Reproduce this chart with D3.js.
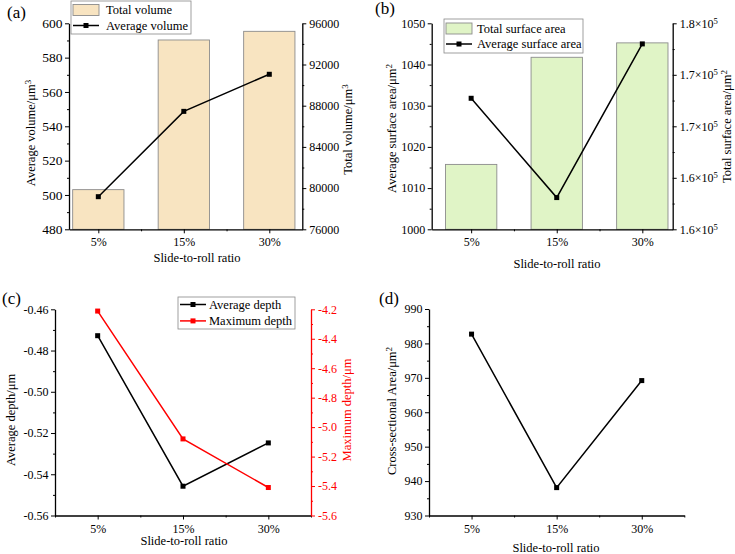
<!DOCTYPE html>
<html>
<head>
<meta charset="utf-8">
<script src="https://cdn.jsdelivr.net/npm/d3@7"></script>
<style>
  body { margin: 0; background: #fff; }
  svg { display: block; }
</style>
</head>
<body>
<svg id="chart" width="735" height="554"></svg>
<script>
// categories
const ratios = ["5%", "15%", "30%"];

// (a) volume
const avgVolume = [499.0, 548.7, 570.3];
const totalVolume = [79850, 94380, 95220];
const volumeTicks = [480, 500, 520, 540, 560, 580, 600];
const totalVolumeTicks = [76000, 80000, 84000, 88000, 92000, 96000];

// (b) surface area
const avgSurface = [1031.8, 1007.7, 1045.0];
const totalSurface = [166300, 176700, 178100];
const surfaceTicks = [1000, 1010, 1020, 1030, 1040, 1050];
const totalSurfaceTicks = [160000, 165000, 170000, 175000, 180000];
const totalSurfaceLabels = ["1.6", "1.6", "1.7", "1.7", "1.8"];

// (c) depth
const avgDepth = [-0.4728, -0.5458, -0.5248];
const maxDepth = [-4.212, -5.080, -5.410];
const depthTicks = [-0.56, -0.54, -0.52, -0.50, -0.48, -0.46];
const maxDepthTicks = [-5.6, -5.4, -5.2, -5.0, -4.8, -4.6, -4.4, -4.2];

// (d) cross-sectional area
const crossArea = [982.7, 938.1, 969.2];
const crossTicks = [930, 940, 950, 960, 970, 980, 990];

const FONT = "'Liberation Serif','Times New Roman',serif";
const svg = d3.select("#chart").attr("font-family", FONT);

// midpoints between major ticks -> minor ticks
const minorOf = t => t.slice(1).map((v, i) => (v + t[i]) / 2);

function title(g, x, y, rot, main, sup, color) {
  const t = g.append("text")
    .attr("transform", `translate(${x},${y})` + (rot ? " rotate(-90)" : ""))
    .attr("text-anchor", "middle")
    .attr("font-size", 12.5)
    .attr("fill", color || "#000")
    .text(main);
  if (sup) t.append("tspan").attr("dy", "-0.45em").attr("font-size", "0.72em").text(sup);
}

function styleAxis(a, color, size) {
  a.attr("font-family", FONT).attr("font-size", size).style("color", color || "#000");
  a.selectAll(".domain").attr("stroke-width", 1.3);
  a.selectAll(".tick line").attr("stroke-width", 1);
}

function panel(p) {
  const g = svg.append("g");
  const x = d3.scaleLinear(p.xDomain, [p.left, p.right]);
  const y = d3.scaleLinear(d3.extent(p.yTicks), [p.bottom, p.top]);
  const y2 = p.y2Ticks ? d3.scaleLinear(d3.extent(p.y2Ticks), [p.bottom, p.top]) : null;

  // bars on the right axis
  if (p.bars) {
    const bw = (x(2) - x(1)) * 0.6;
    g.append("g").selectAll("rect").data(p.bars).join("rect")
      .attr("x", (d, i) => x(i + 1) - bw / 2)
      .attr("y", d => y2(d))
      .attr("width", bw)
      .attr("height", d => p.bottom - y2(d))
      .attr("fill", p.barFill)
      .attr("stroke", "#8c8c8c")
      .attr("stroke-width", 0.9);
  }

  // x axis
  const xMinor = [0.5, 1.5, 2.5, 3.5].filter(v => v >= p.xDomain[0] - 1e-6 && v <= p.xDomain[1] + 1e-6);
  g.append("g").attr("transform", `translate(0,${p.bottom})`)
    .call(d3.axisBottom(x).tickValues(xMinor).tickSize(2).tickFormat(""))
    .call(a => a.select(".domain").remove())
    .call(a => styleAxis(a));
  g.append("g").attr("transform", `translate(0,${p.bottom})`)
    .call(d3.axisBottom(x).tickValues([1, 2, 3]).tickFormat(i => ratios[i - 1])
      .tickSize(4).tickSizeOuter(0).tickPadding(4.5))
    .call(a => styleAxis(a, "#000", 12));

  // left axis
  g.append("g").attr("transform", `translate(${p.left},0)`)
    .call(d3.axisLeft(y).tickValues(minorOf(p.yTicks)).tickSize(2).tickFormat(""))
    .call(a => a.select(".domain").remove())
    .call(a => styleAxis(a));
  g.append("g").attr("transform", `translate(${p.left},0)`)
    .call(d3.axisLeft(y).tickValues(p.yTicks).tickFormat(p.yFmt)
      .tickSize(4).tickSizeOuter(0).tickPadding(2.5))
    .call(a => styleAxis(a, "#000", p.yFont || 12));

  // right axis
  if (y2) {
    g.append("g").attr("transform", `translate(${p.right},0)`)
      .call(d3.axisRight(y2).tickValues(minorOf(p.y2Ticks)).tickSize(2).tickFormat(""))
      .call(a => a.select(".domain").remove())
      .call(a => styleAxis(a, p.y2Color));
    const ra = g.append("g").attr("transform", `translate(${p.right},0)`)
      .call(d3.axisRight(y2).tickValues(p.y2Ticks).tickFormat(p.y2Fmt || (d => d))
        .tickSize(4).tickSizeOuter(0).tickPadding(3))
      .call(a => styleAxis(a, p.y2Color, 12));
    if (p.y2Sup) {
      ra.selectAll(".tick text").each(function (d, i) {
        const t = d3.select(this).text(null);
        t.append("tspan").text(p.y2Sup[i] + "\u00d710");
        t.append("tspan").attr("dy", "-0.45em").attr("font-size", "0.72em").text("5");
      });
    }
  } else {
    // plain right end of x axis already drawn by domain
  }

  // lines
  const line = sc => d3.line().x((d, i) => x(i + 1)).y(d => sc(d));
  p.lines.forEach(s => {
    const sc = s.right ? y2 : y;
    g.append("path").datum(s.values)
      .attr("d", line(sc))
      .attr("fill", "none")
      .attr("stroke", s.color)
      .attr("stroke-width", 1.5);
    g.append("g").selectAll("rect").data(s.values).join("rect")
      .attr("x", (d, i) => x(i + 1) - 2.5)
      .attr("y", d => sc(d) - 2.5)
      .attr("width", 5).attr("height", 5)
      .attr("fill", s.color);
  });

  // legend
  if (p.legend) {
    const L = p.legend;
    g.append("rect")
      .attr("x", L.x).attr("y", L.y).attr("width", L.w).attr("height", L.h)
      .attr("fill", "#fff").attr("stroke", "#888").attr("stroke-width", 0.8);
    const rows = g.append("g").selectAll("g").data(L.items).join("g")
      .attr("transform", (d, i) => `translate(${L.x},${L.y + L.first + i * L.rowH})`);
    rows.each(function (d) {
      const r = d3.select(this);
      if (d.bar) {
        r.append("rect").attr("x", 2).attr("y", -5.5).attr("width", 26).attr("height", 11)
          .attr("fill", d.color).attr("stroke", "#8c8c8c").attr("stroke-width", 0.9);
      } else {
        r.append("line").attr("x1", 2).attr("x2", 28).attr("y1", 0).attr("y2", 0)
          .attr("stroke", d.color).attr("stroke-width", 1.5);
        r.append("rect").attr("x", 12.5).attr("y", -2.5).attr("width", 5).attr("height", 5)
          .attr("fill", d.color);
      }
      r.append("text").attr("x", L.textX).attr("dy", "0.35em")
        .attr("font-size", 12.5).text(d.label);
    });
  }

  // titles
  p.titles.forEach(t => title(g, t.x, t.y, t.rot, t.text, t.sup, t.color));
  g.append("text").attr("x", p.tag.x).attr("y", p.tag.y)
    .attr("font-size", 17).text(p.tag.text);
}

// (a)
panel({
  left: 69, right: 302.3, top: 23.3, bottom: 229.3, xDomain: [0.657, 3.386],
  yTicks: volumeTicks, yFmt: d3.format("d"), yFont: 13.5,
  y2Ticks: totalVolumeTicks, y2Fmt: d3.format("d"),
  bars: totalVolume, barFill: "#f8e4c1",
  lines: [{ values: avgVolume, color: "#000" }],
  legend: { x: 71, y: 1, w: 120, h: 33, first: 9, rowH: 15.5, textX: 35,
    items: [{ bar: true, color: "#f8e4c1", label: "Total volume" },
            { color: "#000", label: "Average volume" }] },
  titles: [
    { x: 35, y: 133, rot: true, text: "Average volume/\u03bcm", sup: "3" },
    { x: 352, y: 129.5, rot: true, text: "Total volume/\u03bcm", sup: "3" },
    { x: 197, y: 262, text: "Slide-to-roll ratio" }
  ],
  tag: { x: 7, y: 18, text: "(a)" }
});

// (b)
panel({
  left: 431.7, right: 672.7, top: 23.3, bottom: 229.3, xDomain: [0.539, 3.355],
  yTicks: surfaceTicks, yFmt: d3.format("d"),
  y2Ticks: totalSurfaceTicks, y2Sup: totalSurfaceLabels,
  bars: totalSurface, barFill: "#e0f4c6",
  lines: [{ values: avgSurface, color: "#000" }],
  legend: { x: 444, y: 19, w: 139, h: 34, first: 9.5, rowH: 15.5, textX: 33,
    items: [{ bar: true, color: "#e0f4c6", label: "Total surface area" },
            { color: "#000", label: "Average surface area" }] },
  titles: [
    { x: 396, y: 128.5, rot: true, text: "Average surface area/\u03bcm", sup: "2" },
    { x: 731, y: 126.5, rot: true, text: "Total surface area/\u03bcm", sup: "2" },
    { x: 557, y: 268, text: "Slide-to-roll ratio" }
  ],
  tag: { x: 375, y: 14, text: "(b)" }
});

// (c)
panel({
  left: 55, right: 311, top: 309.3, bottom: 515.5, xDomain: [0.5, 3.5],
  yTicks: depthTicks, yFmt: d => d.toFixed(2),
  y2Ticks: maxDepthTicks, y2Fmt: d => d.toFixed(1), y2Color: "#ff0000",
  lines: [{ values: avgDepth, color: "#000" },
          { values: maxDepth, color: "#ff0000", right: true }],
  legend: { x: 178, y: 297, w: 117, h: 32, first: 7.5, rowH: 16.4, textX: 31,
    items: [{ color: "#000", label: "Average depth" },
            { color: "#ff0000", label: "Maximum depth" }] },
  titles: [
    { x: 15, y: 420, rot: true, text: "Average depth/\u03bcm" },
    { x: 351, y: 410, rot: true, text: "Maximum depth/\u03bcm", color: "#ff0000" },
    { x: 184, y: 545, text: "Slide-to-roll ratio" }
  ],
  tag: { x: 2, y: 304, text: "(c)" }
});

// (d)
panel({
  left: 429, right: 684.3, top: 309, bottom: 515.5, xDomain: [0.5, 3.5],
  yTicks: crossTicks, yFmt: d3.format("d"),
  lines: [{ values: crossArea, color: "#000" }],
  titles: [
    { x: 396, y: 411, rot: true, text: "Cross-sectional Area/\u03bcm", sup: "2" },
    { x: 556, y: 552, text: "Slide-to-roll ratio" }
  ],
  tag: { x: 379, y: 304, text: "(d)" }
});
</script>
</body>
</html>
